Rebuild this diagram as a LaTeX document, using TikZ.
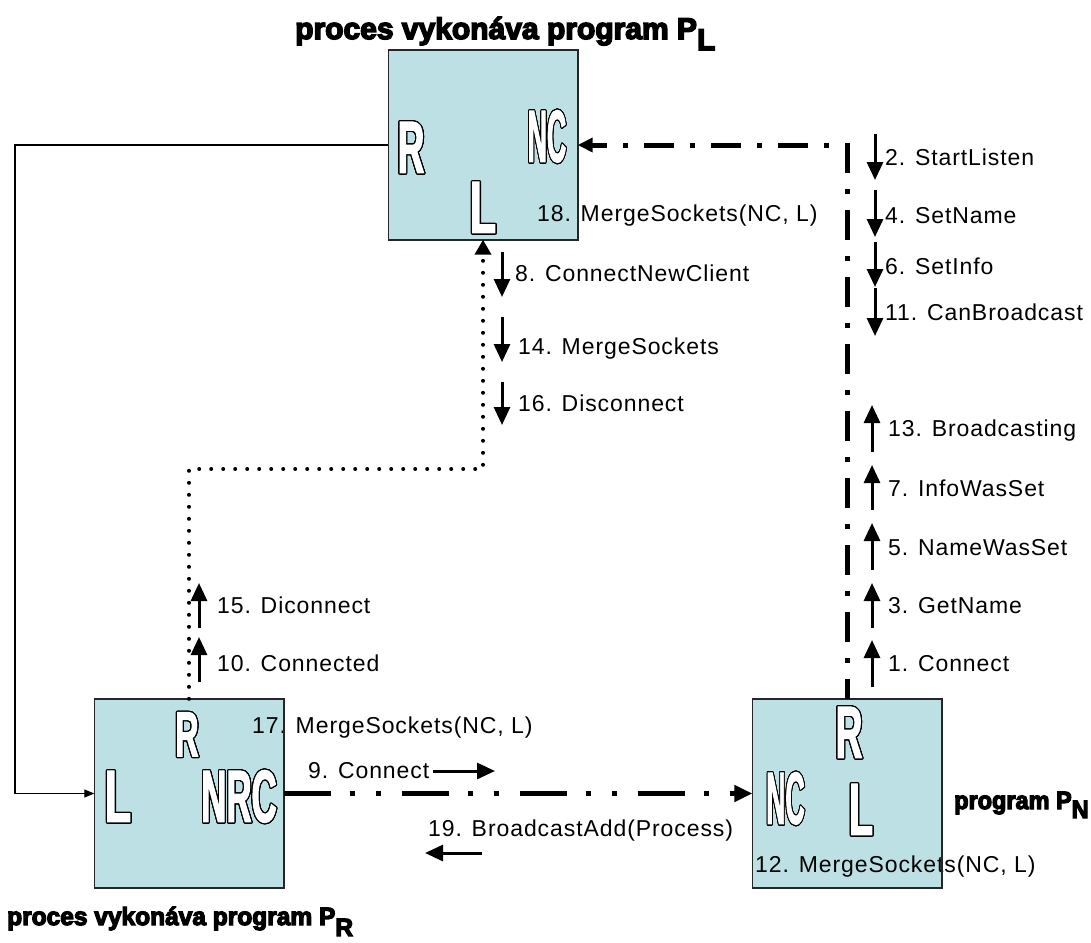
\documentclass[tikz,border=0pt]{standalone}
\usepackage{fontspec}
\usepackage{graphicx}
\usepackage{contour}
\usetikzlibrary{arrows.meta}
\setmainfont{Liberation Sans}
\newfontfamily\msgfont{Liberation Sans}[LetterSpace=4]
\newfontfamily\titlefont{Liberation Sans Bold}[FakeBold=5]
\newfontfamily\sockfont{Liberation Sans Bold}[FakeStretch=0.5, FakeBold=1.5]
\definecolor{boxfill}{RGB}{188,224,227}
\contourlength{1.2pt}
\contournumber{24}
% outlined socket name, squeezed horizontally by #1
\newcommand\sockname[2]{\scalebox{#1}[1]{\contour{black}{#2}}}
\begin{document}
\begin{tikzpicture}[x=1pt,y=-1pt,
  procbox/.style={fill=boxfill, draw=none, minimum width=189pt, minimum height=189pt, inner sep=0pt},
  boxline/.style={line width=1.6pt, draw=black!85},
  sock/.style={inner sep=0pt, text=white, font=\sockfont\fontsize{74}{74}\selectfont},
  ttl/.style={inner sep=0pt, anchor=base west, font=\titlefont\fontsize{25}{25}\selectfont},
  lbl/.style={inner sep=0pt, anchor=base west, font=\msgfont\fontsize{23}{23}\selectfont},
  msg/.style={line width=3pt, -{Triangle[length=18pt,width=16pt]}},
  thinline/.style={line width=1.3pt, -{Triangle[length=10pt,width=8pt]}},
  dotline/.style={line width=4pt, line cap=round, dash pattern=on 0pt off 12pt,
                  -{Triangle[length=15pt,width=16pt]}},
  dashdot/.style={line width=5pt, dash pattern=on 30pt off 16pt on 5pt off 16pt,
                  dash phase=10pt, -{Triangle[length=15pt,width=14pt]}},
  dashdotdot/.style={line width=5pt, dash pattern=on 47pt off 19pt on 5pt off 21pt on 5pt off 21pt,
                  -{Triangle[length=18pt,width=16pt]}}]
\useasboundingbox (0,0) rectangle (1091,942);

% process boxes
\node[procbox] (pl) at (483,145) {};
\node[procbox] (pr) at (189,793.5) {};
\node[procbox] (pn) at (847,793.5) {};

% socket names
\node[sock] (plR) at (411,148) {\sockname{1}{R}};
\node[sock] (plNC) at (547,137) {\sockname{0.72}{NC}};
\node[sock] (plL) at (483,208) {\sockname{1.15}{L}};
\node[sock, font=\sockfont\fontsize{64}{64}\selectfont] (prR) at (187,735) {\sockname{1}{R}};
\node[sock] (prL) at (118,797) {\sockname{1.15}{L}};
\node[sock] (prNRC) at (239,797) {\sockname{0.94}{NRC}};
\node[sock] (pnR) at (849,733) {\sockname{1}{R}};
\node[sock] (pnNC) at (785.5,799) {\sockname{0.72}{NC}};
\node[sock] (pnL) at (861,810) {\sockname{1.06}{L}};

% titles
\node[ttl, font=\titlefont\fontsize{30}{30}\selectfont] (tpl) at (295,39)
  {proces vykonáva program P\raisebox{-11pt}{L}};
\node[ttl] (tpr) at (7,925) {\scalebox{0.98}[1]{proces vykonáva program P\raisebox{-11pt}{R}}};
\node[ttl] (tpn) at (954,809) {\scalebox{0.94}[1]{program P\raisebox{-9pt}{N}}};

% merge labels inside the boxes
\node[lbl] (m18) at (537,221) {18. MergeSockets(NC, L)};
\node[lbl] (m17) at (252,733) {17. MergeSockets(NC, L)};
\node[lbl] (m12) at (755,872) {12. MergeSockets(NC, L)};

% box borders over the labels
\draw[boxline] (pl.south west) rectangle (pl.north east);
\draw[boxline] (pr.south west) rectangle (pr.north east);
\draw[boxline] (pn.south west) rectangle (pn.north east);

% connections between the processes
\coordinate (lft) at (15,0);
\coordinate (jog) at (0,469);
\draw[thinline] (pl.west) -- (pl.west -| lft) |- (pr.west);
\draw[dotline] (pr.north) -- (pr.north |- jog) -| (pl.south);
\draw[dashdot] (pn.north) |- (pl.east);
\draw[dashdotdot] (pr.east) -- (pn.west);

% messages from P_L to P_N
\draw[msg] (875,134) -- (875,180);
\node[lbl] (a2) at (885,165) {2. StartListen};
\draw[msg] (875,190) -- (875,237);
\node[lbl] (a4) at (885,223) {4. SetName};
\draw[msg] (875,242) -- (875,287);
\node[lbl] (a6) at (885,274) {6. SetInfo};
\draw[msg] (875,288) -- (875,336);
\node[lbl] (a11) at (885,320) {11. CanBroadcast};

% messages from P_N to P_L
\draw[msg] (872,452) -- (872,405);
\node[lbl] (a13) at (888,436) {13. Broadcasting};
\draw[msg] (872,510) -- (872,465);
\node[lbl] (a7) at (888,496) {7. InfoWasSet};
\draw[msg] (872,570) -- (872,523);
\node[lbl] (a5) at (888,555) {5. NameWasSet};
\draw[msg] (872,628) -- (872,583);
\node[lbl] (a3) at (888,613) {3. GetName};
\draw[msg] (872,687) -- (872,640);
\node[lbl] (a1) at (888,671) {1. Connect};

% messages from P_L to P_R
\draw[msg] (502,252) -- (502,297);
\node[lbl] (a8) at (515,281) {8. ConnectNewClient};
\draw[msg] (502,317) -- (502,362);
\node[lbl] (a14) at (518,354) {14. MergeSockets};
\draw[msg] (502,382) -- (502,425);
\node[lbl] (a16) at (518,411) {16. Disconnect};

% messages from P_R to P_L
\draw[msg] (199,682) -- (199,637);
\node[lbl] (a10) at (217,671) {10. Connected};
\draw[msg] (199,628) -- (199,583);
\node[lbl] (a15) at (217,613) {15. Diconnect};

% messages between P_R and P_N
\node[lbl] (a9) at (308,778) {9. Connect};
\draw[msg] (433,771) -- (495,771);
\node[lbl] (a19) at (428,836) {19. BroadcastAdd(Process)};
\draw[msg] (482,853) -- (425,853);
\end{tikzpicture}
\end{document}
